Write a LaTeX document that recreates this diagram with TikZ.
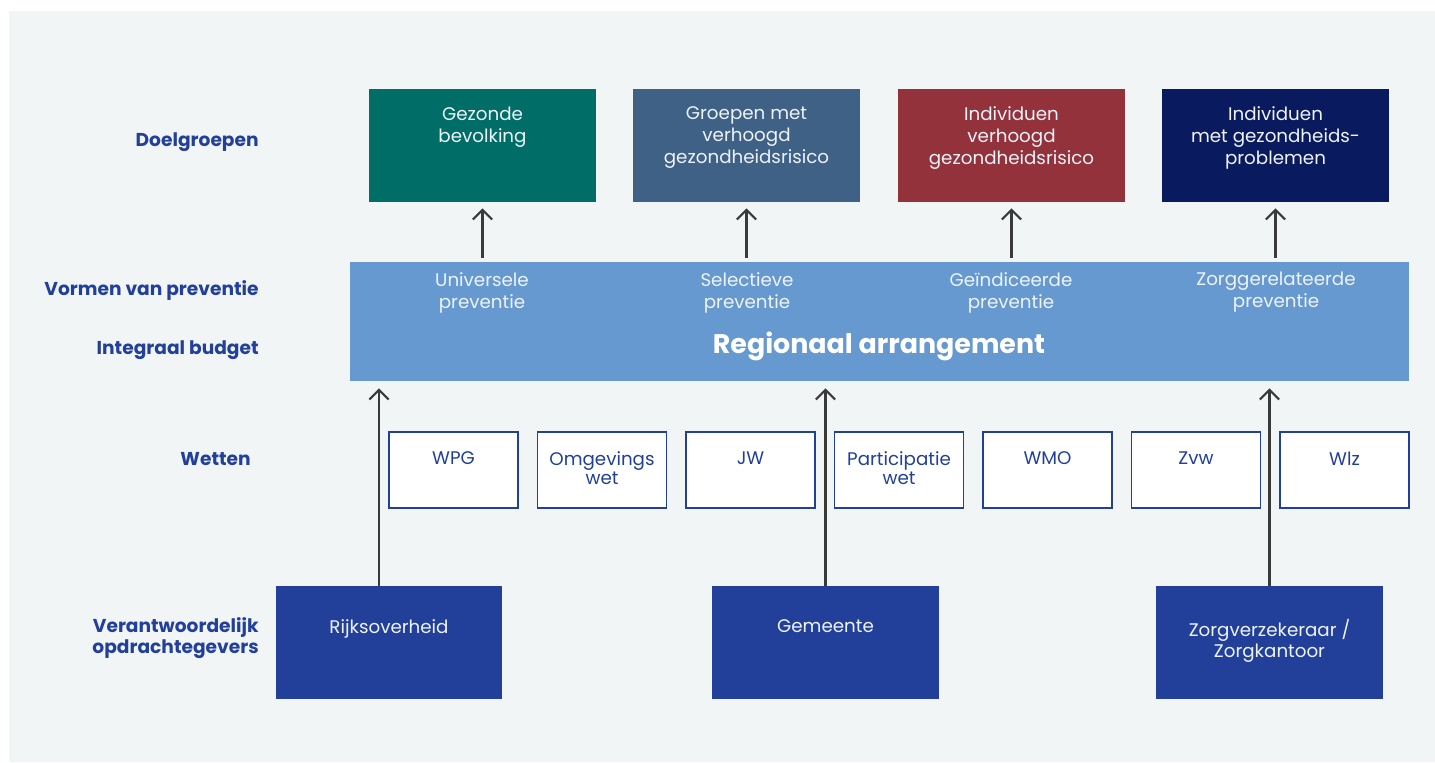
\documentclass[tikz,border=0pt]{standalone}
\usepackage{fontspec}
\setmainfont{Poppins}
\usetikzlibrary{arrows.meta,positioning}

\definecolor{panelbg}{HTML}{F1F5F6}
\definecolor{doelteal}{HTML}{006E66}
\definecolor{doelslate}{HTML}{3F6186}
\definecolor{doelred}{HTML}{94323C}
\definecolor{doelnavy}{HTML}{0A1A5E}
\definecolor{bandblue}{HTML}{6699D0}
\definecolor{rijksblue}{HTML}{22409A}
\definecolor{arrowgray}{HTML}{3A3A3A}
\definecolor{softwhite}{HTML}{EEF3FA}

\begin{document}
\begin{tikzpicture}[x=0.02cm, y=-0.02cm,
    every node/.style={font=\fontsize{10.4}{12.5}\selectfont},
    bigbox/.style={minimum width=4.54cm, minimum height=2.26cm, inner sep=0pt},
    boxtxt/.style={anchor=north, align=center, text=softwhite, inner sep=0pt},
    wetbox/.style={draw=rijksblue, line width=0.8pt, fill=white,
        minimum width=2.58cm, minimum height=1.52cm, inner sep=0pt},
    wettxt/.style={anchor=north, align=center, text=rijksblue, inner sep=0pt,
        font=\fontsize{10.4}{8.6}\selectfont},
    lbl/.style={anchor=east, align=right, text=rijksblue, inner sep=0pt,
        font=\bfseries\fontsize{10.6}{12}\selectfont},
    arr/.style={draw=arrowgray, line width=1.2pt,
        -{Straight Barb[length=5.5pt, width=11pt, line width=1.2pt]}}]

    % Background
    \useasboundingbox (0,0) rectangle (1435,762);
    \fill[white] (0,0) rectangle (1435,762);
    \fill[panelbg] (9,11) rectangle (1435,762);

    % --- LABELS (left column) ---
    \node[lbl] (l-doel) at (259,142) {Doelgroepen};
    \node[lbl] (l-vorm) at (259,291) {Vormen van preventie};
    \node[lbl] (l-budget) at (259,350) {Integraal budget};
    \node[lbl] (l-wet) at (251,459) {Wetten};
    \node[lbl] (l-opdr) at (259,638) {Verantwoordelijk\\opdrachtegevers};

    % --- DOELGROEPEN ---
    \node[bigbox, fill=doelteal] (gezond) at (482.5,145.5) {};
    \node[boxtxt] (gezond-t) at ([yshift=-0.36cm]gezond.north) {Gezonde\\bevolking};

    \node[bigbox, fill=doelslate] (groep) at (746.5,145.5) {};
    \node[boxtxt] (groep-t) at ([yshift=-0.36cm]groep.north) {Groepen met\\verhoogd\\gezondheidsrisico};

    \node[bigbox, fill=doelred] (indiv) at (1011.5,145.5) {};
    \node[boxtxt] (indiv-t) at ([yshift=-0.36cm]indiv.north) {Individuen\\verhoogd\\gezondheidsrisico};

    \node[bigbox, fill=doelnavy] (probl) at (1275.5,145.5) {};
    \node[boxtxt] (probl-t) at ([yshift=-0.36cm]probl.north) {Individuen\\met gezondheids-\\problemen};

    % --- REGIONAAL ARRANGEMENT ---
    \node[fill=bandblue, minimum width=21.18cm, minimum height=2.38cm, inner sep=0pt] (band) at (879.5,321.5) {};
    \node[boxtxt] (univ) at (482,272) {Universele\\preventie};
    \node[boxtxt] (selec) at (747,272) {Selectieve\\preventie};
    \node[boxtxt] (geind) at (1011,272) {Geïndiceerde\\preventie};
    \node[boxtxt] (zorgrel) at (1276,272) {Zorggerelateerde\\preventie};
    \node[text=white, inner sep=0pt, font=\bfseries\fontsize{15.3}{18}\selectfont] (arrang) at (879,346) {Regionaal arrangement};

    % arrows up to the doelgroepen
    \foreach \doel in {gezond, groep, indiv, probl}
        \draw[arr] ([yshift=0.08cm]\doel.south |- band.north) -- ([yshift=-0.12cm]\doel.south);

    % --- WETTEN ---
    \foreach \wet [count=\i from 0] in {WPG, Omgevings\\wet, JW, Participatie\\wet, WMO, Zvw, Wlz} {
        \node[wetbox] (wet\i) at (453.5+148.5*\i,470) {};
        \node[wettxt] (wet\i-t) at ([yshift=-0.4cm]wet\i.north) {\wet};
    }

    % --- OPDRACHTGEVERS ---
    \node[bigbox, fill=rijksblue] (rijks) at (389,642.5) {};
    \node[boxtxt] (rijks-t) at ([yshift=-0.68cm]rijks.north) {Rijksoverheid};

    \node[bigbox, fill=rijksblue] (gemeente) at (825.5,642.5) {};
    \node[boxtxt] (gemeente-t) at ([yshift=-0.68cm]gemeente.north) {Gemeente};

    \node[bigbox, fill=rijksblue] (zorgverz) at (1269.5,642.5) {};
    \node[boxtxt, font=\fontsize{10.4}{12}\selectfont] (zorgverz-t) at ([yshift=-0.66cm]zorgverz.north) {Zorgverzekeraar /\\Zorgkantoor};

    % arrows up to the arrangement
    \draw[arr] ([xshift=-0.2cm]rijks.north) -- ([xshift=-0.2cm, yshift=-0.14cm]rijks.north |- band.south);
    \draw[arr] (gemeente.north) -- ([yshift=-0.14cm]gemeente.north |- band.south);
    \draw[arr] (zorgverz.north) -- ([yshift=-0.14cm]zorgverz.north |- band.south);
\end{tikzpicture}
\end{document}
